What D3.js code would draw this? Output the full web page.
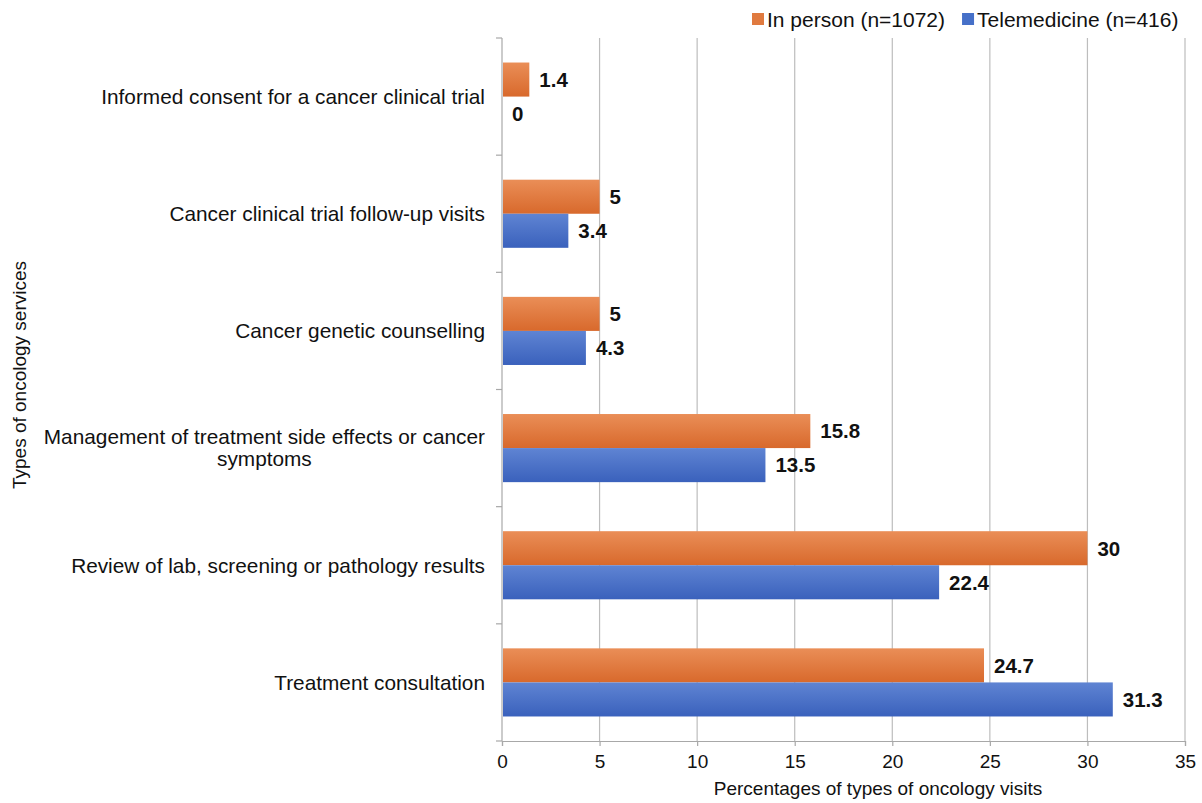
<!DOCTYPE html>
<html>
<head>
<meta charset="utf-8">
<script src="https://cdn.jsdelivr.net/npm/d3@7"></script>
<style>
  html, body { margin: 0; padding: 0; background: #fff; }
  svg { display: block; font-family: "Liberation Sans", Arial, Helvetica, sans-serif; }
</style>
</head>
<body>
<svg id="chart" width="1202" height="803"></svg>
<script>
// Oncology service categories, top to bottom
const categories = [
  ["Informed consent for a cancer clinical trial"],
  ["Cancer clinical trial follow-up visits"],
  ["Cancer genetic counselling"],
  ["Management of treatment side effects or cancer", "symptoms"],
  ["Review of lab, screening or pathology results"],
  ["Treatment consultation"]
];
const inPerson = [1.4, 5, 5, 15.8, 30, 24.7];
const telemedicine = [0, 3.4, 4.3, 13.5, 22.4, 31.3];
const seriesNames = ["In person (n=1072)", "Telemedicine (n=416)"];
const xTicks = [0, 5, 10, 15, 20, 25, 30, 35];

const svg = d3.select("#chart");
const margin = { left: 502, right: 17, top: 38, bottom: 62 };
const W = 1202, H = 803;
const plotW = W - margin.left - margin.right;
const plotH = H - margin.top - margin.bottom;

const x = d3.scaleLinear().domain([0, 35]).range([margin.left, margin.left + plotW]);
const y = d3.scaleBand().domain(d3.range(categories.length))
  .range([margin.top, margin.top + plotH]).paddingInner(0).paddingOuter(0);
const sub = d3.scaleBand().domain([0, 1]).range([0, y.bandwidth()]).paddingInner(0).paddingOuter(0.72);

// Bar gradients
const defs = svg.append("defs");
const grads = [
  { id: "gOrange", top: "#ea8e57", bottom: "#d8692c" },
  { id: "gBlue", top: "#5f84d3", bottom: "#3a61bc" }
];
grads.forEach(g => {
  const lg = defs.append("linearGradient").attr("id", g.id)
    .attr("x1", 0).attr("y1", 0).attr("x2", 0).attr("y2", 1);
  lg.append("stop").attr("offset", "0%").attr("stop-color", g.top);
  lg.append("stop").attr("offset", "100%").attr("stop-color", g.bottom);
});

// Vertical gridlines
svg.append("g").selectAll("line").data(xTicks.slice(1)).join("line")
  .attr("x1", d => x(d)).attr("x2", d => x(d))
  .attr("y1", margin.top).attr("y2", margin.top + plotH)
  .attr("stroke", "#bdbdbd").attr("stroke-width", 1.2);

// X axis
const xAxis = svg.append("g").attr("transform", `translate(0,${margin.top + plotH})`)
  .call(d3.axisBottom(x).tickValues(xTicks).tickSize(5).tickPadding(9));
xAxis.select(".domain").attr("stroke", "#a8a8a8").attr("stroke-width", 1.2);
xAxis.selectAll(".tick line").attr("stroke", "#a8a8a8").attr("stroke-width", 1.2);
xAxis.selectAll(".tick text").attr("font-size", 19).attr("fill", "#111")
  .attr("font-family", "'Liberation Sans', Arial, sans-serif");

// Y axis line with ticks at category boundaries
const boundaries = d3.range(categories.length + 1).map(i => margin.top + i * y.bandwidth());
svg.append("line")
  .attr("x1", margin.left).attr("x2", margin.left)
  .attr("y1", margin.top).attr("y2", margin.top + plotH)
  .attr("stroke", "#a8a8a8").attr("stroke-width", 1.2);
svg.append("g").selectAll("line").data(boundaries).join("line")
  .attr("x1", margin.left - 6).attr("x2", margin.left)
  .attr("y1", d => d).attr("y2", d => d)
  .attr("stroke", "#a8a8a8").attr("stroke-width", 1.2);

// Bars
const series = [
  { values: inPerson, fill: "url(#gOrange)", k: 0 },
  { values: telemedicine, fill: "url(#gBlue)", k: 1 }
];
series.forEach(s => {
  const g = svg.append("g");
  g.selectAll("rect").data(s.values).join("rect")
    .attr("x", x(0) + 1)
    .attr("y", (d, i) => y(i) + sub(s.k))
    .attr("width", d => Math.max(0, x(d) - x(0) - 1))
    .attr("height", sub.bandwidth())
    .attr("fill", s.fill);
  g.selectAll("text").data(s.values).join("text")
    .attr("x", d => x(d) + 10)
    .attr("y", (d, i) => y(i) + sub(s.k) + sub.bandwidth() / 2)
    .attr("dy", "0.36em")
    .attr("font-size", 20.5).attr("font-weight", "bold").attr("fill", "#111")
    .text(d => d);
});

// Category labels
const labelRight = margin.left - 17;
categories.forEach((lines, i) => {
  const cy = y(i) + y.bandwidth() / 2;
  const t = svg.append("text").attr("font-size", 20.8).attr("fill", "#111");
  if (lines.length === 1) {
    t.attr("x", labelRight).attr("y", cy).attr("dy", "0.35em")
      .attr("text-anchor", "end").text(lines[0]);
  } else {
    const lh = 22;
    t.attr("text-anchor", "end");
    const first = t.append("tspan").attr("x", labelRight)
      .attr("y", cy - lh / 2).attr("dy", "0.35em").text(lines[0]);
    const w = first.node().getComputedTextLength();
    t.attr("text-anchor", "middle");
    first.attr("x", labelRight - w / 2);
    t.append("tspan").attr("x", labelRight - w / 2)
      .attr("y", cy + lh / 2).attr("dy", "0.35em").text(lines[1]);
  }
});

// Axis titles
svg.append("text")
  .attr("x", 878).attr("y", 795)
  .attr("text-anchor", "middle").attr("font-size", 19).attr("fill", "#111")
  .text("Percentages of types of oncology visits");
svg.append("text")
  .attr("transform", `translate(26,375) rotate(-90)`)
  .attr("text-anchor", "middle").attr("font-size", 19).attr("fill", "#111")
  .text("Types of oncology services");

// Legend
const legend = svg.append("g").attr("transform", "translate(752,19)");
const legendColors = ["#e07a3f", "#4670c8"];
let lx = 0;
seriesNames.forEach((name, i) => {
  const item = legend.append("g").attr("transform", `translate(${lx},0)`);
  item.append("rect").attr("x", 0).attr("y", -6).attr("width", 12).attr("height", 12)
    .attr("fill", legendColors[i]);
  const txt = item.append("text").attr("x", 15).attr("y", 0).attr("dy", "0.36em")
    .attr("font-size", 21).attr("fill", "#111").text(name);
  lx += 15 + txt.node().getComputedTextLength() + 17;
});
</script>
</body>
</html>
